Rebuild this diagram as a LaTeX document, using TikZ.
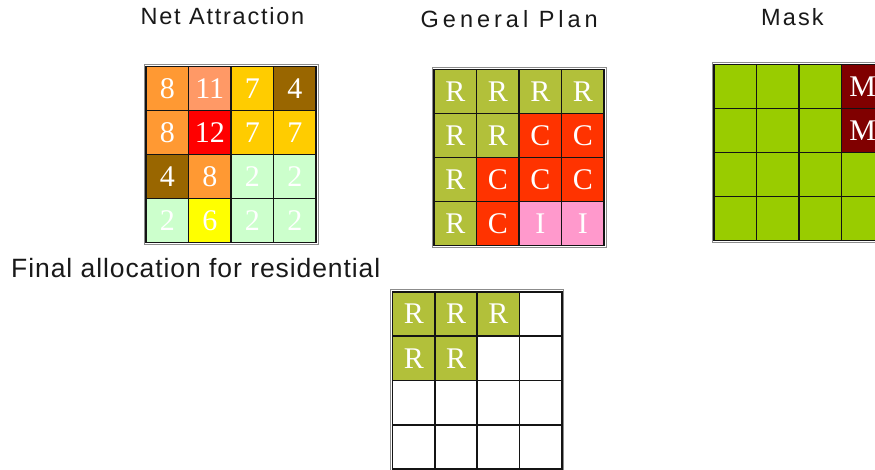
\documentclass[tikz,border=0pt]{standalone}
\usepackage{fontspec}
\setmainfont{Liberation Serif}
\newfontfamily\lsans{Liberation Sans}
\definecolor{cOrange}{RGB}{255,153,51}
\definecolor{cSalmon}{RGB}{255,153,102}
\definecolor{cAmber}{RGB}{255,204,0}
\definecolor{cBrown}{RGB}{153,102,0}
\definecolor{cRed}{RGB}{255,0,0}
\definecolor{cMint}{RGB}{204,255,204}
\definecolor{cYellow}{RGB}{255,255,0}
\definecolor{cOlive}{RGB}{178,192,58}
\definecolor{cVermilion}{RGB}{255,51,0}
\definecolor{cPink}{RGB}{255,153,204}
\definecolor{cLime}{RGB}{153,204,0}
\definecolor{cMaroon}{RGB}{128,0,0}
\definecolor{cLine}{RGB}{20,20,20}
\begin{document}
\begin{tikzpicture}[x=1pt,y=-1pt,
  cell/.style={draw=cLine,line width=1.5pt,minimum width=42.5pt,minimum height=44pt,
    inner sep=0pt,text=white,font=\fontsize{30}{30}\selectfont},
  frame/.style={draw=black!45,line width=0.8pt},
  title/.style={anchor=base west,inner sep=0pt,text=black!90}]
\useasboundingbox (0,0) rectangle (875,470);

% Titles
\node[title,font=\lsans\fontsize{23.5}{24}\selectfont\addfontfeature{LetterSpace=7.5}] (tna) at (140.5,25) {Net Attraction};
\node[title,font=\lsans\fontsize{23.5}{24}\selectfont\addfontfeature{LetterSpace=17}] (tgp) at (420.5,27.5) {General Plan};
\node[title,font=\lsans\fontsize{23.5}{24}\selectfont\addfontfeature{LetterSpace=9}] (tmk) at (761,26) {Mask};
\node[title,font=\lsans\fontsize{26.5}{27}\selectfont\addfontfeature{LetterSpace=3.5}] (tfa) at (11,277.7) {Final allocation for residential};

% Net Attraction
\foreach \r/\c/\col/\t in {
  1/1/cOrange/8, 1/2/cSalmon/11, 1/3/cAmber/7, 1/4/cBrown/4,
  2/1/cOrange/8, 2/2/cRed/12, 2/3/cAmber/7, 2/4/cAmber/7,
  3/1/cBrown/4, 3/2/cOrange/8, 3/3/cMint/2, 3/4/cMint/2,
  4/1/cMint/2, 4/2/cYellow/6, 4/3/cMint/2, 4/4/cMint/2}
  \node[cell,fill=\col] (na-\r-\c) at ({146+42.5*(\c-0.5)},{66.7+44*(\r-0.5)}) {\t};
\draw[frame] ([shift={(-1.3,-1.3)}]na-1-1.north west) rectangle ([shift={(1.3,1.3)}]na-4-4.south east);

% General Plan
\foreach \r/\c/\col/\t in {
  1/1/cOlive/R, 1/2/cOlive/R, 1/3/cOlive/R, 1/4/cOlive/R,
  2/1/cOlive/R, 2/2/cOlive/R, 2/3/cVermilion/C, 2/4/cVermilion/C,
  3/1/cOlive/R, 3/2/cVermilion/C, 3/3/cVermilion/C, 3/4/cVermilion/C,
  4/1/cOlive/R, 4/2/cVermilion/C, 4/3/cPink/I, 4/4/cPink/I}
  \node[cell,fill=\col] (gp-\r-\c) at ({434+42.5*(\c-0.5)},{69.3+44*(\r-0.5)}) {\t};
\draw[frame] ([shift={(-1.3,-1.3)}]gp-1-1.north west) rectangle ([shift={(1.3,1.3)}]gp-4-4.south east);

% Mask
\foreach \r/\c/\col/\t in {
  1/1/cLime/, 1/2/cLime/, 1/3/cLime/, 1/4/cMaroon/M,
  2/1/cLime/, 2/2/cLime/, 2/3/cLime/, 2/4/cMaroon/M,
  3/1/cLime/, 3/2/cLime/, 3/3/cLime/, 3/4/cLime/,
  4/1/cLime/, 4/2/cLime/, 4/3/cLime/, 4/4/cLime/}
  \node[cell,fill=\col] (mk-\r-\c) at ({714+42.5*(\c-0.5)},{64.3+44*(\r-0.5)}) {\t};
\draw[frame] ([shift={(-1.3,-1.3)}]mk-1-1.north west) rectangle ([shift={(1.3,1.3)}]mk-4-4.south east);

% Final allocation
\foreach \r/\c/\col/\t in {
  1/1/cOlive/R, 1/2/cOlive/R, 1/3/cOlive/R, 1/4/white/,
  2/1/cOlive/R, 2/2/cOlive/R, 2/3/white/, 2/4/white/,
  3/1/white/, 3/2/white/, 3/3/white/, 3/4/white/,
  4/1/white/, 4/2/white/, 4/3/white/, 4/4/white/}
  \node[cell,fill=\col] (fa-\r-\c) at ({392.7+42.25*(\c-0.5)},{291.7+44.4*(\r-0.5)}) {\t};
\draw[frame] ([shift={(-1.3,-1.3)}]fa-1-1.north west) rectangle ([shift={(1.3,1.3)}]fa-4-4.south east);
\end{tikzpicture}
\end{document}
